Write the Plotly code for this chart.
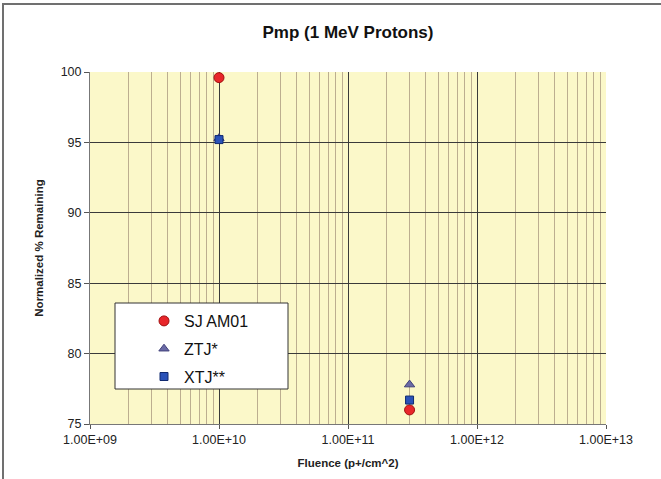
import plotly.graph_objects as go

# Data
series_names = ["SJ AM01", "ZTJ*", "XTJ**"]
fluence_sj = [1e10, 3e11]
pmp_sj = [99.6, 76.0]
fluence_ztj = [1e10, 3e11]
pmp_ztj = [95.3, 77.8]
fluence_xtj = [1e10, 3e11]
pmp_xtj = [95.2, 76.7]
x_tick_vals = [1e9, 1e10, 1e11, 1e12, 1e13]
x_tick_text = ["1.00E+09", "1.00E+10", "1.00E+11", "1.00E+12", "1.00E+13"]

PL, PR, PT, PB = 90, 606, 72, 424
W, H = PR - PL, PB - PT


def px(x):
    return (x - PL) / W


def py(y):
    return (PB - y) / H


fig = go.Figure()
fig.add_trace(go.Scatter(x=fluence_sj, y=pmp_sj, mode="markers", name=series_names[0],
                         legendgroup="a",
                         marker=dict(symbol="circle", size=10, color="#e8262a",
                                     line=dict(color="#a01010", width=1))))
fig.add_trace(go.Scatter(x=fluence_ztj, y=pmp_ztj, mode="markers", name=series_names[1],
                         legendgroup="b",
                         marker=dict(symbol="triangle-up", size=9, color="#6a6aa6",
                                     line=dict(color="#40407a", width=1))))
fig.add_trace(go.Scatter(x=fluence_xtj, y=pmp_xtj, mode="markers", name=series_names[2],
                         legendgroup="c",
                         marker=dict(symbol="square", size=8, color="#2a52b8",
                                     line=dict(color="#102a70", width=1))))

fig.update_layout(
    width=661, height=479,
    margin=dict(l=PL, r=661 - PR, t=PT, b=479 - PB),
    paper_bgcolor="white",
    plot_bgcolor="#fbf8c9",
    font=dict(family="Liberation Sans, Arial", color="#222"),
    title=dict(text="<b>Pmp (1 MeV Protons)</b>", x=0.5, xref="paper", y=1 - 32/479,
               yanchor="middle", font=dict(size=17, color="#111")),
    showlegend=True,
    legend=dict(x=px(144), y=py(304), xanchor="left", yanchor="top",
                bgcolor="rgba(0,0,0,0)", borderwidth=0,
                font=dict(size=16, color="#111"), itemsizing="trace",
                tracegroupgap=4),
    xaxis=dict(type="log", range=[9, 13], tickvals=x_tick_vals, ticktext=x_tick_text,
               showgrid=True, gridcolor="#3a3a3a", gridwidth=1,
               minor=dict(showgrid=True, gridcolor="#bcae90", gridwidth=1, dtick="D1"),
               ticks="outside", ticklen=4, tickcolor="#555",
               showline=True, linecolor="#777", linewidth=1,
               tickfont=dict(size=12.5, color="#222"), zeroline=False,
               title=dict(text="<b>Fluence (p+/cm^2)</b>", font=dict(size=11.5, color="#222"),
                          standoff=12)),
    yaxis=dict(range=[75, 100], dtick=5, showgrid=True, gridcolor="#3a3a3a", gridwidth=1,
               ticks="outside", ticklen=5, tickcolor="#555",
               showline=True, linecolor="#777", linewidth=1,
               tickfont=dict(size=12.5, color="#222"), zeroline=False,
               title=dict(text="<b>Normalized % Remaining</b>", font=dict(size=11.5, color="#222"),
                          standoff=14)),
    shapes=[
        dict(type="rect", xref="paper", yref="paper",
             x0=px(3), x1=2, y0=-1, y1=py(4),
             line=dict(color="#707070", width=2), fillcolor="rgba(0,0,0,0)", layer="below"),
        dict(type="rect", xref="paper", yref="paper",
             x0=px(115), x1=px(288), y0=py(389), y1=py(303),
             line=dict(color="#333", width=1), fillcolor="white", layer="above"),
    ],
)

fig.write_html("out.html")
